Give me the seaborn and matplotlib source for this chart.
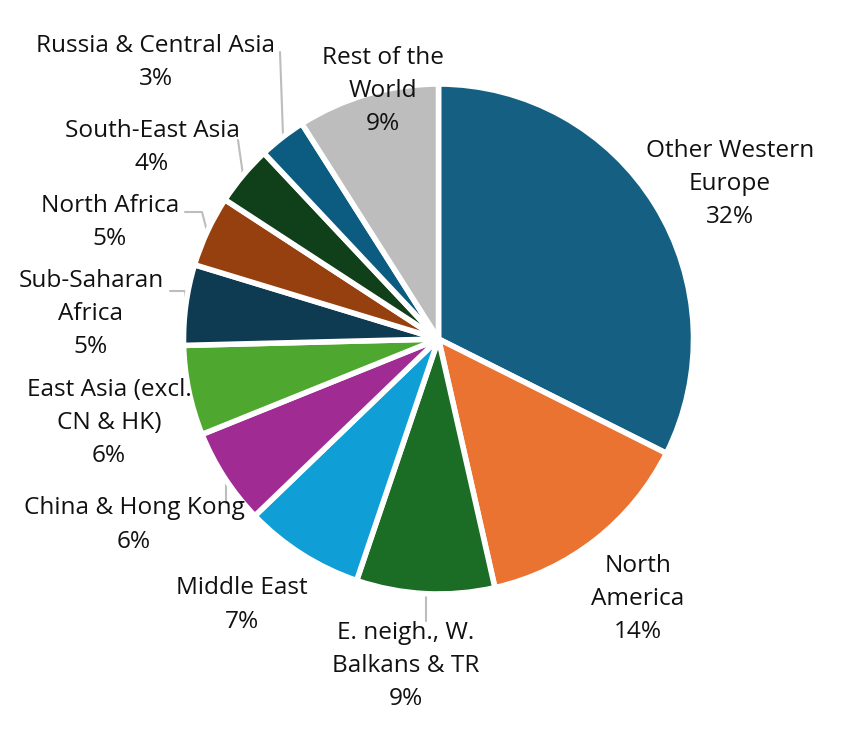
import matplotlib
matplotlib.use("Agg")
import matplotlib.pyplot as plt
import seaborn as sns

sns.set_theme(style="white")
plt.rcParams['font.family'] = ['Open Sans', 'DejaVu Sans']

labels = ["Other Western\nEurope\n32%", "North\nAmerica\n14%", "E. neigh., W.\nBalkans & TR\n9%",
          "Middle East\n7%", "China & Hong Kong\n6%", "East Asia (excl.\nCN & HK)\n6%",
          "Sub-Saharan\nAfrica\n5%", "North Africa\n5%", "South-East Asia\n4%",
          "Russia & Central Asia\n3%", "Rest of the\nWorld\n9%"]
values = [32.4, 14.05, 8.75, 7.6, 6.1, 5.7, 5.1, 4.5, 3.8, 3.0, 9.0]
colors = ["#156082", "#EB7331", "#1B6C25", "#109ED6", "#A02B93", "#4EA72E",
          "#0E3A52", "#97400F", "#10401A", "#0B5C80", "#BDBDBD"]
label_px = [(730, 184), (638, 599), (406, 666), (242, 605), (134, 525), (109, 423),
            (91, 314), (110, 222), (152, 147), (156, 62), (383, 91)]
leaders = [((426, 594), (426, 621)), ((226, 481), (226, 503)), ((170, 291), (185, 291), (186, 306)),
           ((185, 212), (202, 212), (207, 231)), ((238, 140), (243, 175)), ((280, 52), (283, 135))]

W, H = 851, 735
fig = plt.figure(figsize=(W / 100, H / 100), dpi=100)
ax = fig.add_axes([0, 0, 1, 1])
ax.pie(values, colors=colors, startangle=-90, counterclock=True, center=(438.5, 339), radius=255,
       wedgeprops=dict(edgecolor="white", linewidth=4, joinstyle="bevel"), frame=True)
ax.set_aspect("equal")
ax.set_xlim(0, W)
ax.set_ylim(H, 0)
ax.axis("off")
for pts in leaders:
    ax.plot([p[0] for p in pts], [p[1] for p in pts], color="#BDBDBD", lw=1.5, zorder=0.5)
for text, (x, y) in zip(labels, label_px):
    ax.text(x, y, text, ha="center", va="center", fontsize=17.6, color="#111111", linespacing=1.5, zorder=5)
fig.savefig("out.png", dpi=100, facecolor="white")
